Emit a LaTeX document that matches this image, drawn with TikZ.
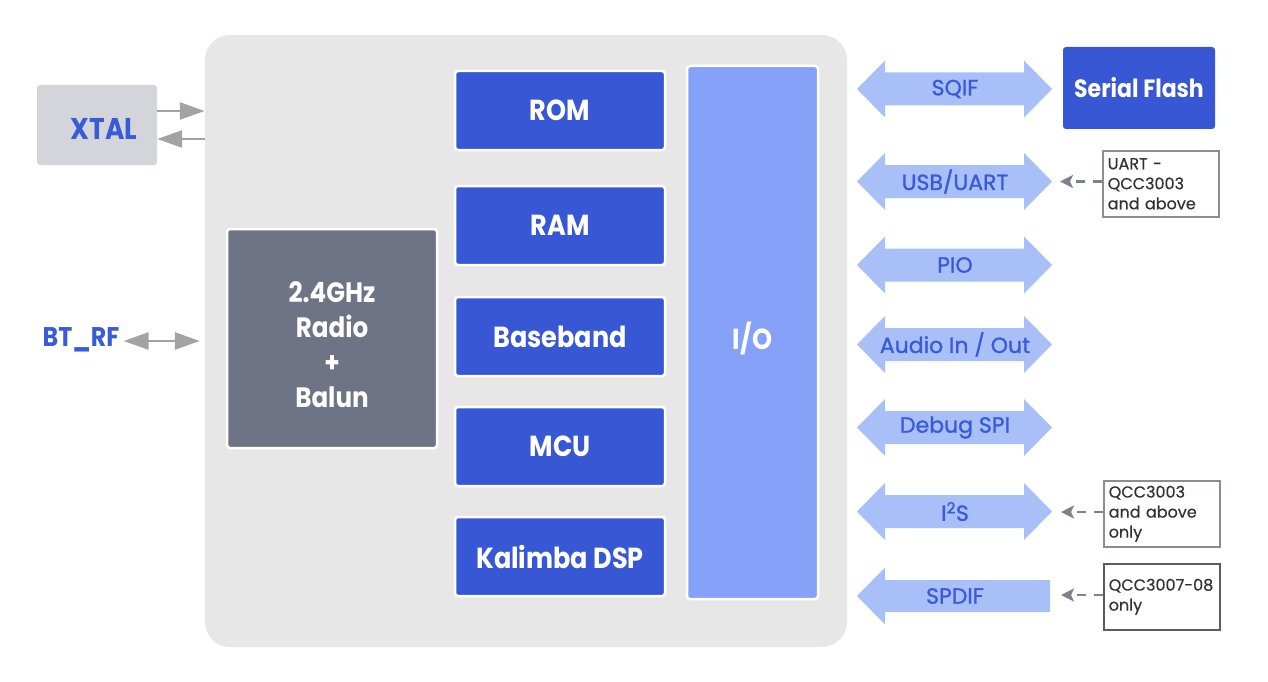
\documentclass[tikz,border=0pt]{standalone}
\usepackage{fontspec}
\setmainfont{Poppins}[BoldFeatures={FakeStretch=0.88}]
\newfontfamily\labfont{Poppins}[FakeBold=1.2]
\newfontfamily\notefont{Poppins}[FakeBold=0.6]
\usetikzlibrary{arrows.meta,calc}
\definecolor{mainbg}{HTML}{E7E7E7}
\definecolor{xtalbg}{HTML}{D3D5DA}
\definecolor{tblue}{HTML}{3A5BD9}
\definecolor{chipblue}{HTML}{3757D4}
\definecolor{iofill}{HTML}{85A1F8}
\definecolor{radiofill}{HTML}{6E7385}
\definecolor{ifill}{HTML}{A9BFF7}
\definecolor{garr}{HTML}{A3A3A3}
\definecolor{darr}{HTML}{7D828D}
\definecolor{nborder}{HTML}{8A8D94}
\definecolor{ntext}{HTML}{333333}
\tikzset{
  chip/.style={draw=white, line width=2.5pt, fill=chipblue, rounded corners=3pt, text=white,
    font=\bfseries\fontsize{29}{34}\selectfont, inner sep=0pt, minimum width=210pt, minimum height=79pt},
  chiptext/.style={text=white, inner sep=0pt, align=center},
  iflabel/.style={text=tblue, font=\labfont\fontsize{22}{26}\selectfont, inner sep=0pt},
  note/.style={draw=nborder, line width=1.5pt, text=ntext, font=\notefont\fontsize{16}{20}\selectfont,
    align=left, anchor=north west, inner xsep=5pt, inner ysep=0pt, text width=106pt,
    minimum width=116pt, minimum height=66pt},
  garrow/.style={draw=garr, line width=2.5pt},
  gtip/.tip={Triangle[length=25pt,width=17pt]},
  darrow/.style={draw=darr, line width=2.5pt, dash pattern=on 9pt off 8pt,
    -{Stealth[length=13pt,width=13pt,inset=3pt]}},
}
\newcommand\ifarrow[3]{%
  \fill[ifill] (857,#2) -- (885,#2-28.5) -- (885,#2-16.5) -- (1024,#2-16.5) -- (1024,#2-28.5)
    -- (1052,#2) -- (1024,#2+28.5) -- (1024,#2+16.5) -- (885,#2+16.5) -- (885,#2+28.5) -- cycle;
  \node[iflabel] (#1) at (955,#2) {#3};}
\begin{document}
\begin{tikzpicture}[x=1pt,y=-1pt]
\useasboundingbox (0,0) rectangle (1268,682);
% main SoC
\node[fill=mainbg, rounded corners=25pt, minimum width=642pt, minimum height=612pt, inner sep=0pt] (soc) at (526,341) {};
% XTAL
\node[fill=xtalbg, rounded corners=3pt, minimum width=120pt, minimum height=80pt, inner sep=0pt] (xtal) at (97,125) {};
\node[text=tblue, font=\bfseries\fontsize{30}{34}\selectfont, inner sep=0pt] (xtallabel) at (104,129) {XTAL};
\draw[garrow, -gtip] (xtal.east |- 0,111) -- (soc.west |- 0,111);
\draw[garrow, -gtip] (soc.west |- 0,139) -- (xtal.east |- 0,139);
% BT_RF
\node[text=tblue, font=\bfseries\fontsize{27}{32}\selectfont, inner sep=0pt] (bt) at (81,340) {BT\_RF};
% radio
\node[chip, fill=radiofill, minimum width=210pt, minimum height=219pt] (radio) at (332,338.5) {};
\node[chiptext, font=\bfseries\fontsize{28}{35}\selectfont] (radiolabel) at (332,345) {2.4GHz\\Radio\\+\\Balun};
\draw[garrow, gtip-gtip, shorten >=5pt, shorten <=4pt] (bt.east |- 0,341) -- (soc.west |- 0,341);
% memory / cores
\node[chip] (rom) at (560,110.5) {ROM};
\node[chip] (ram) at (560,225.5) {RAM};
\node[chip] (bb) at (560,336.5) {Baseband};
\node[chip] (mcu) at (560,446.5) {MCU};
\node[chip] (dsp) at (560,556.5) {Kalimba DSP};
% I/O
\node[chip, fill=iofill, minimum width=131pt, minimum height=533pt] (io) at (752.5,332.5) {};
\node[chiptext, font=\bfseries\fontsize{29}{34}\selectfont] (iolabel) at (752.5,338.5) {I/O};
% interfaces
\ifarrow{sqif}{89}{SQIF}
\ifarrow{usb}{181.5}{USB/UART}
\ifarrow{pio}{265}{PIO}
\ifarrow{audio}{344.5}{Audio In / Out}
\ifarrow{spi}{427.5}{Debug SPI}
\ifarrow{iis}{511.5}{I\textsuperscript{2}S}
\fill[ifill] (857,596) -- (885,596-28.5) -- (885,596-16) -- (1050,596-16) -- (1050,596+16)
  -- (885,596+16) -- (885,596+28.5) -- cycle;
\node[iflabel] (spdif) at (955,596) {SPDIF};
% serial flash
\node[chip, draw=none, minimum width=152pt, minimum height=82pt, font=\bfseries\fontsize{25}{28}\selectfont] (flash) at (1139,88) {Serial Flash};
% notes
\node[note] (n1) at (1102,150) {UART -\\QCC3003\\and above};
\node[note] (n2) at (1103,480) {QCC3003\\and above\\only};
\node[note, draw=ntext!80] (n3) at (1103,563) {QCC3007-08\\only};
\coordinate (t1) at (1060,181.5);
\coordinate (t2) at (1061,512);
\coordinate (t3) at (1061,595);
\draw[darrow] (n1.west |- t1) -- (t1);
\draw[darrow] (n2.west |- t2) -- (t2);
\draw[darrow] (n3.west |- t3) -- (t3);
\end{tikzpicture}
\end{document}
